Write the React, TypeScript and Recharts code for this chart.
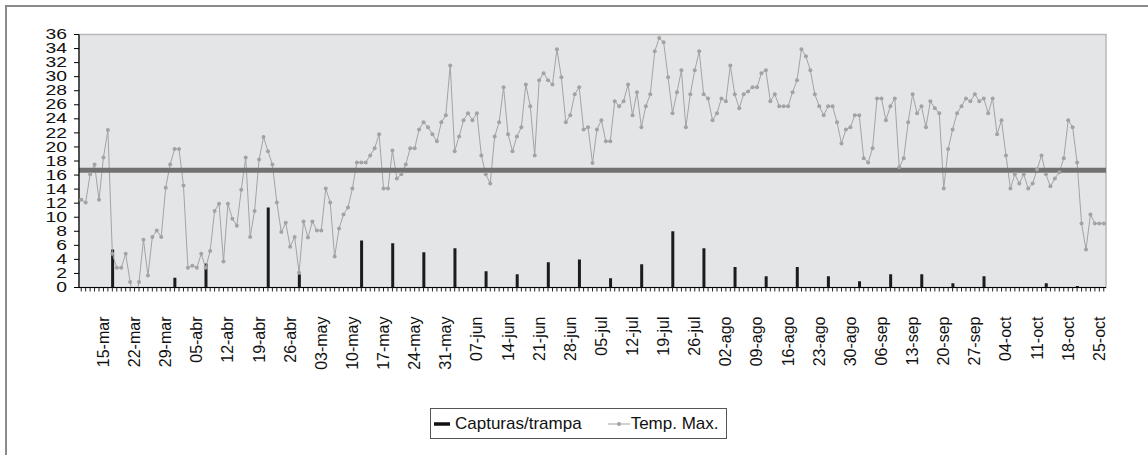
import React from 'react';
import {
  ComposedChart,
  Bar,
  Line,
  XAxis,
  YAxis,
  CartesianGrid,
  ReferenceLine,
  ReferenceArea,
  Legend,
} from 'recharts';

// Calendar span of the daily series (month name, first day, last day)
const monthSpans: [string, number, number][] = [
  ['mar', 10, 31],
  ['abr', 1, 30],
  ['may', 1, 31],
  ['jun', 1, 30],
  ['jul', 1, 31],
  ['ago', 1, 31],
  ['sep', 1, 30],
  ['oct', 1, 26],
];

// Daily maximum temperature, one array per month
const tempMar = [12.5, 12.1, 16.1, 17.5, 12.5, 18.5, 22.4, 4.8, 2.8, 2.8, 4.8, 0.8, -2.1, 0.8, 6.8, 1.7, 7.2, 8.1, 7.2, 14.2, 17.5, 19.7];
const tempAbr = [19.7, 14.5, 2.8, 3.1, 2.8, 4.8, 2.8, 5.2, 10.9, 11.9, 3.7, 11.9, 9.8, 8.8, 13.9, 18.5, 7.2, 10.9, 18.2, 21.4, 19.4, 17.5, 12.1, 7.9, 9.2, 5.8, 7.2, 2.1, 9.4, 7.1];
const tempMay = [9.4, 8.1, 8.1, 14.1, 12.1, 4.4, 8.4, 10.4, 11.4, 14.1, 17.8, 17.8, 17.8, 18.8, 19.8, 21.8, 14.1, 14.1, 19.5, 15.5, 16.1, 17.5, 19.8, 19.8, 22.5, 23.5, 22.8, 21.8, 20.8, 23.5, 24.5];
const tempJun = [31.6, 19.4, 21.5, 23.8, 24.8, 23.8, 24.8, 18.8, 16.1, 14.8, 21.5, 23.5, 28.5, 21.8, 19.4, 21.5, 22.8, 28.9, 25.8, 18.8, 29.5, 30.5, 29.5, 28.9, 33.9, 29.9, 23.5, 24.5, 27.5, 28.5];
const tempJul = [22.5, 22.8, 17.7, 22.5, 23.8, 20.8, 20.8, 26.5, 25.8, 26.5, 28.9, 24.5, 27.8, 22.8, 25.8, 27.5, 33.6, 35.5, 34.9, 29.9, 24.8, 27.8, 30.9, 22.8, 27.5, 30.9, 33.6, 27.5, 26.9, 23.8, 24.8];
const tempAgo = [26.9, 26.5, 31.6, 27.5, 25.5, 27.5, 27.9, 28.5, 28.5, 30.5, 30.9, 26.5, 27.5, 25.8, 25.8, 25.8, 27.8, 29.5, 33.9, 32.9, 30.9, 27.5, 25.8, 24.5, 25.8, 25.8, 23.5, 20.5, 22.5, 22.8, 24.5];
const tempSep = [24.5, 18.4, 17.8, 19.8, 26.9, 26.9, 23.8, 25.8, 26.9, 17.1, 18.4, 23.5, 27.5, 24.8, 25.8, 22.8, 26.5, 25.5, 24.8, 14.1, 19.7, 22.5, 24.8, 25.8, 26.9, 26.5, 27.5, 26.5, 26.9, 24.8];
const tempOct = [26.9, 21.8, 23.8, 18.8, 14.1, 16.1, 14.8, 16.1, 14.1, 14.8, 16.8, 18.8, 16.1, 14.4, 15.5, 16.4, 18.4, 23.8, 22.8, 17.8, 9.1, 5.4, 10.4, 9.1, 9.1, 9.1];

// Weekly trap captures
const captureDates = ['17-mar', '31-mar', '07-abr', '21-abr', '28-abr', '12-may', '19-may', '26-may', '02-jun', '09-jun', '16-jun', '23-jun', '30-jun', '07-jul', '14-jul', '21-jul', '28-jul', '04-ago', '11-ago', '18-ago', '25-ago', '01-sep', '08-sep', '15-sep', '22-sep', '29-sep', '13-oct', '20-oct'];
const captureValues = [5.4, 1.4, 3.4, 11.4, 1.9, 6.7, 6.3, 5.0, 5.6, 2.3, 1.9, 3.6, 4.0, 1.3, 3.3, 8.0, 5.6, 2.9, 1.6, 2.9, 1.6, 0.9, 1.9, 1.9, 0.6, 1.6, 0.6, 0.2];

// Threshold line
const thresholdTemp = 16.7;

// Axis labels
const xLabels = ['15-mar', '22-mar', '29-mar', '05-abr', '12-abr', '19-abr', '26-abr', '03-may', '10-may', '17-may', '24-may', '31-may', '07-jun', '14-jun', '21-jun', '28-jun', '05-jul', '12-jul', '19-jul', '26-jul', '02-ago', '09-ago', '16-ago', '23-ago', '30-ago', '06-sep', '13-sep', '20-sep', '27-sep', '04-oct', '11-oct', '18-oct', '25-oct'];
const yTicks = [0, 2, 4, 6, 8, 10, 12, 14, 16, 18, 20, 22, 24, 26, 28, 30, 32, 34, 36];

const SERIES_CAP = 'Capturas/trampa';
const SERIES_TEMP = 'Temp. Max.';

const dates: string[] = [];
monthSpans.forEach(([m, a, b]) => {
  for (let d = a; d <= b; d++) dates.push(`${d < 10 ? '0' + d : d}-${m}`);
});
const temps = [...tempMar, ...tempAbr, ...tempMay, ...tempJun, ...tempJul, ...tempAgo, ...tempSep, ...tempOct];
const capMap: Record<string, number> = {};
captureDates.forEach((d, i) => {
  capMap[d] = captureValues[i];
});
const data = dates.map((date, i) => ({
  date,
  temp: temps[i],
  cap: capMap[date] ?? null,
}));

const FONT = '"Liberation Sans", Arial, Helvetica, sans-serif';

const XTick = (props: any) => {
  const { x, y, payload } = props;
  if (!xLabels.includes(payload.value)) return null;
  const yy = y + 23;
  return (
    <text
      x={x}
      y={yy}
      transform={`rotate(-90 ${x} ${yy})`}
      textAnchor="end"
      dominantBaseline="central"
      fontSize={16}
      fontFamily={FONT}
      fill="#111"
    >
      {payload.value}
    </text>
  );
};

const YTick = (props: any) => {
  const { x, y, payload } = props;
  return (
    <text
      x={x}
      y={y}
      textAnchor="end"
      dominantBaseline="central"
      fontSize={14}
      fontFamily={FONT}
      fill="#111"
      transform={`translate(${x} ${y}) scale(1.38 1.02) translate(${-x} ${-y})`}
    >
      {payload.value}
    </text>
  );
};

const LegendBox = () => (
  <div
    style={{
      width: 297,
      height: 31,
      boxSizing: 'border-box',
      border: '1.5px solid #555',
      background: '#fff',
      display: 'flex',
      alignItems: 'center',
      fontFamily: FONT,
      fontSize: 17,
      color: '#111',
      whiteSpace: 'nowrap',
    }}
  >
    <svg width={19} height={10} style={{ marginLeft: 2, marginRight: 3 }}>
      <line x1={1} y1={5} x2={17} y2={5} stroke="#111" strokeWidth={3.5} />
    </svg>
    <span>{SERIES_CAP}</span>
    <svg width={22} height={10} style={{ marginLeft: 26, marginRight: 1 }}>
      <line x1={0} y1={5} x2={22} y2={5} stroke="#a3a3a3" strokeWidth={1} />
      <circle cx={11} cy={5} r={2} fill="#a3a3a3" />
    </svg>
    <span>{SERIES_TEMP}</span>
  </div>
);

export default function App() {
  return (
    <div
      style={{
        position: 'absolute',
        left: 0,
        top: 0,
        width: 1148,
        height: 455,
        overflow: 'hidden',
        background: '#fff',
      }}
    >
      <div
        style={{
          position: 'absolute',
          left: 5,
          top: 5,
          width: 1200,
          height: 500,
          borderLeft: '2px solid #8a8a8a',
          borderTop: '2px solid #8a8a8a',
        }}
      />
      <div style={{ position: 'absolute', left: 0, top: 0 }}>
        <ComposedChart
          width={1148}
          height={455}
          data={data}
          margin={{ top: 34.5, right: 42, bottom: 87.5, left: 0 }}
        >
          <CartesianGrid horizontal={false} vertical={false} fill="#e4e5e7" fillOpacity={1} />
          <ReferenceArea y1={0} y2={36} fill="none" stroke="#b8b8b8" strokeWidth={1.5} ifOverflow="visible" />
          <XAxis
            dataKey="date"
            interval={0}
            tickSize={4}
            tickMargin={2}
            height={80}
            axisLine={{ stroke: '#000', strokeWidth: 1.2 }}
            tickLine={{ stroke: '#222', strokeWidth: 1 }}
            tick={<XTick />}
          />
          <YAxis
            width={79}
            domain={[0, 36]}
            ticks={yTicks}
            interval={0}
            allowDataOverflow
            tickSize={5}
            tickMargin={7}
            axisLine={{ stroke: '#000', strokeWidth: 1.2 }}
            tickLine={{ stroke: '#000', strokeWidth: 1 }}
            tick={<YTick />}
          />
          <Bar dataKey="cap" name={SERIES_CAP} fill="#1c1c1c" barSize={3} isAnimationActive={false} />
          <Line
            dataKey="temp"
            name={SERIES_TEMP}
            stroke="#a3a3a3"
            strokeWidth={1}
            dot={{ r: 2, fill: '#a3a3a3', stroke: 'none' }}
            activeDot={false}
            isAnimationActive={false}
          />
          <ReferenceLine y={thresholdTemp} stroke="#717171" strokeWidth={5} />
          <Legend
            verticalAlign="middle"
            align="center"
            layout="horizontal"
            wrapperStyle={{ left: 430, top: 408, width: 297, height: 31 }}
            content={() => <LegendBox />}
          />
        </ComposedChart>
      </div>
    </div>
  );
}
